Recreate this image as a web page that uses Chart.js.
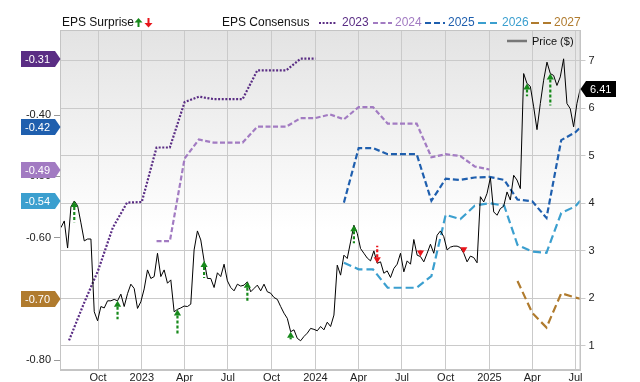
<!DOCTYPE html>
<html><head><meta charset="utf-8">
<script src="https://cdn.jsdelivr.net/npm/chart.js@4/dist/chart.umd.min.js"></script>
<style>html,body{margin:0;padding:0;background:#fff}</style>
</head><body>
<canvas id="c" width="640" height="382"></canvas>
<script>
// ---------- DATA ----------
const priceStart = '2022-07-15'; // weekly closes from this date
const priceWeekly = [
3.49,3.63,3.06,3.93,4.05,3.95,3.59,3.21,3.25,3.25,
1.72,1.53,1.83,1.80,1.95,1.95,1.98,1.95,2.09,1.83,
2.10,2.30,2.21,1.79,1.93,2.20,2.60,2.42,2.46,2.95,
2.46,2.60,2.32,2.39,1.72,1.77,1.80,1.84,1.83,1.88,
3.02,3.42,3.23,2.79,2.42,2.42,2.23,2.54,2.46,2.72,
2.37,2.23,2.16,2.30,2.26,2.28,2.35,2.14,2.21,2.28,
2.16,2.30,2.14,2.11,2.02,1.98,1.83,1.69,1.58,1.30,
1.34,1.16,1.11,1.20,1.27,1.37,1.35,1.32,1.41,1.34,
1.50,1.41,1.65,2.70,2.49,2.91,2.84,3.19,3.54,3.37,
3.05,2.95,2.85,2.79,3.00,2.74,2.77,2.53,2.58,2.44,
2.63,2.72,2.95,2.56,2.79,2.72,3.24,2.91,2.88,2.77,
2.95,3.14,2.95,3.33,3.42,3.30,3.02,3.08,3.10,3.10,
3.07,2.95,2.77,2.89,2.86,2.75,4.14,4.03,4.21,4.54,
3.82,3.75,3.89,3.94,4.24,4.07,4.59,4.49,4.31,6.73,
6.52,6.46,6.03,5.55,6.10,6.59,6.97,6.73,6.69,6.48,
6.66,7.04,6.10,5.99,5.61,6.10,6.41
];

const consensusDates = [
'2022-08-01','2022-09-01','2022-10-01','2022-11-01','2022-12-01',
'2023-01-01','2023-02-01','2023-03-01','2023-04-01','2023-05-01','2023-06-01',
'2023-07-01','2023-08-01','2023-09-01','2023-10-01','2023-11-01','2023-12-01',
'2024-01-01','2024-02-01','2024-03-01','2024-04-01','2024-05-01','2024-06-01',
'2024-07-01','2024-08-01','2024-09-01','2024-10-01','2024-11-01','2024-12-01',
'2025-01-01','2025-02-01','2025-03-01','2025-04-01','2025-05-01','2025-06-01',
'2025-07-01','2025-07-11'
];
const N = null;
const eps2023 = [-0.768,-0.708,-0.654,-0.584,-0.543,-0.542,-0.453,-0.453,-0.379,-0.370,-0.374,-0.374,-0.374,-0.327,-0.327,-0.327,-0.308,-0.308,
  N,N,N,N,N,N,N,N,N,N,N,N,N,N,N,N,N,N,N];
const eps2024 = [N,N,N,N,N,N,-0.606,-0.606,-0.471,-0.440,-0.445,-0.445,-0.445,-0.419,-0.419,-0.419,-0.405,-0.405,-0.399,-0.407,-0.387,-0.387,-0.414,-0.414,-0.414,-0.469,-0.464,-0.467,-0.484,-0.489,
  N,N,N,N,N,N,N];
const eps2025 = [N,N,N,N,N,N,N,N,N,N,N,N,N,N,N,N,N,N,N,
  -0.543,-0.454,-0.454,-0.464,-0.464,-0.464,-0.540,-0.504,-0.506,-0.502,-0.501,-0.506,-0.538,-0.541,-0.568,-0.441,-0.428,-0.420];
const eps2026 = [N,N,N,N,N,N,N,N,N,N,N,N,N,N,N,N,N,N,N,
  -0.641,-0.652,-0.652,-0.682,-0.682,-0.682,-0.663,-0.563,-0.570,-0.548,-0.544,-0.548,-0.612,-0.623,-0.625,-0.560,-0.549,-0.540];
const eps2027 = [N,N,N,N,N,N,N,N,N,N,N,N,N,N,N,N,N,N,N,N,N,N,N,N,N,N,N,N,N,N,N,
  -0.671,-0.723,-0.747,-0.691,-0.698,-0.700];

const surpriseDates = ['2022-08-12','2022-11-11','2023-03-17','2023-05-12','2023-08-11','2023-11-10',
  '2024-03-22','2024-05-10','2024-08-09','2024-11-08','2025-03-21','2025-05-09'];
const surpriseSize = [0.45,0.39,0.55,0.36,0.40,0.16,0.38,-0.37,-0.14,-0.13,0.27,0.67];

const xTickDates = ['2022-10-01','2023-01-01','2023-04-01','2023-07-01','2023-10-01','2024-01-01',
  '2024-04-01','2024-07-01','2024-10-01','2025-01-01','2025-04-01','2025-07-01'];
const xTickLabels = ['Oct','2023','Apr','Jul','Oct','2024','Apr','Jul','Oct','2025','Apr','Jul'];
const epsTicks = [-0.8,-0.7,-0.6,-0.5,-0.4];
const priceTicks = [1,2,3,4,5,6,7];

const seriesNames = ['2023','2024','2025','2026','2027'];
const seriesColors = ['#5a2d84','#a27bc2','#1f5fae','#3b9fcf','#b07b2e'];
const seriesDash = [[2,1.6],[5,2.5],[6,3],[8,4],[8,4]];
const seriesData = [eps2023,eps2024,eps2025,eps2026,eps2027];

// ---------- BUILD ----------
const DAY = 86400000;
const ts = s => Date.parse(s + 'T00:00:00Z');
const priceT0 = ts(priceStart);
const priceData = priceWeekly.map((v,i)=>({x: priceT0 + i*7*DAY, y: v}));
const FONT = '"Liberation Sans", Arial, Helvetica, sans-serif';

const datasets = [{
  label:'Price ($)', data: priceData, yAxisID:'yPrice', borderColor:'#000', borderWidth:1,
  pointRadius:0, tension:0, order:0
}];
seriesData.forEach((arr,si)=>{
  const pts = [];
  arr.forEach((v,i)=>{ if(v!==null) pts.push({x: ts(consensusDates[i]), y: v}); });
  datasets.push({label:seriesNames[si], data:pts, yAxisID:'yEps', borderColor:seriesColors[si],
    borderWidth:2.2, borderDash:seriesDash[si], pointRadius:0, tension:0, order:si+1, borderCapStyle:'butt'});
});

function priceAt(d){
  const i = Math.round((ts(d)-priceT0)/(7*DAY));
  return priceWeekly[Math.max(0,Math.min(priceWeekly.length-1,i))];
}

function arrow(ctx, x, yHead, yTail, color){
  const up = yHead < yTail;
  const dir = up ? 1 : -1;
  const hl = 6, hw = 3.6;
  ctx.save();
  ctx.strokeStyle = color; ctx.fillStyle = color; ctx.lineWidth = 2.2;
  ctx.setLineDash([3,2]);
  ctx.beginPath(); ctx.moveTo(x, yHead + dir*hl); ctx.lineTo(x, yTail); ctx.stroke();
  ctx.setLineDash([]);
  ctx.beginPath(); ctx.moveTo(x, yHead); ctx.lineTo(x-hw, yHead+dir*hl); ctx.lineTo(x+hw, yHead+dir*hl); ctx.closePath(); ctx.fill();
  ctx.restore();
}

const decor = {
  id:'decor',
  beforeDraw(chart){
    const {ctx, chartArea:a} = chart;
    ctx.save();
    const g = ctx.createLinearGradient(0, a.top, 0, a.top + 200);
    g.addColorStop(0, '#e3e3e3'); g.addColorStop(1, '#ffffff');
    ctx.fillStyle = g; ctx.fillRect(a.left, a.top, a.right-a.left, a.bottom-a.top);
    ctx.restore();
  },
  afterDatasetsDraw(chart){
    const {ctx, scales} = chart;
    const xs = scales.x, yp = scales.yPrice;
    surpriseDates.forEach((d,i)=>{
      const head = priceAt(d);
      const x = xs.getPixelForValue(ts(d));
      const yH = yp.getPixelForValue(head);
      const yT = yp.getPixelForValue(head - surpriseSize[i]);
      arrow(ctx, x, yH, yT, surpriseSize[i] >= 0 ? '#17891b' : '#e8151b');
    });
  },
  afterDraw(chart){
    const {ctx, chartArea:a, scales} = chart;
    ctx.save();
    // border
    ctx.strokeStyle = '#c4c4c4'; ctx.lineWidth = 1;
    ctx.strokeRect(a.left+0.5, a.top+0.5, a.right-a.left-1, a.bottom-a.top-1);
    // left tags
    ctx.font = '11px ' + FONT; ctx.textBaseline = 'middle'; ctx.textAlign = 'left';
    seriesData.forEach((arr,si)=>{
      let last = null; for (const v of arr) if (v!==null) last = v;
      const y = Math.round(scales.yEps.getPixelForValue(last));
      ctx.fillStyle = seriesColors[si];
      ctx.beginPath(); ctx.moveTo(21,y-8); ctx.lineTo(55,y-8); ctx.lineTo(60.5,y); ctx.lineTo(55,y+8); ctx.lineTo(21,y+8); ctx.closePath(); ctx.fill();
      ctx.fillStyle = '#fff'; ctx.fillText(last.toFixed(2), 25, y+0.5);
    });
    // right price tag
    const lastP = priceWeekly[priceWeekly.length-1];
    const yP = Math.round(scales.yPrice.getPixelForValue(lastP));
    ctx.fillStyle = '#000';
    ctx.beginPath(); ctx.moveTo(580.5,yP); ctx.lineTo(586,yP-8); ctx.lineTo(616,yP-8); ctx.lineTo(616,yP+8); ctx.lineTo(586,yP+8); ctx.closePath(); ctx.fill();
    ctx.fillStyle = '#fff'; ctx.fillText(lastP.toFixed(2), 590, yP+0.5);
    // legend
    ctx.font = '12px ' + FONT; ctx.fillStyle = '#111';
    ctx.fillText('EPS Surprise', 62, 23);
    ctx.fillText('EPS Consensus', 222, 23);
    // legend arrows
    ctx.fillStyle = '#17891b';
    ctx.beginPath(); ctx.moveTo(138.5,18); ctx.lineTo(134.5,22.5); ctx.lineTo(142.5,22.5); ctx.closePath(); ctx.fill();
    ctx.fillRect(137.5,22,2,5);
    ctx.fillStyle = '#e8151b';
    ctx.beginPath(); ctx.moveTo(148.5,27.5); ctx.lineTo(144.5,23); ctx.lineTo(152.5,23); ctx.closePath(); ctx.fill();
    ctx.fillRect(147.5,18,2,5.5);
    const lx = [[319,337,342],[373,392,395],[425,445,448],[478,497,502],[531,551,554]];
    lx.forEach((p,si)=>{
      ctx.strokeStyle = seriesColors[si]; ctx.lineWidth = 2.2; ctx.setLineDash(seriesDash[si]);
      ctx.beginPath(); ctx.moveTo(p[0],23); ctx.lineTo(p[1],23); ctx.stroke();
      ctx.setLineDash([]);
      ctx.fillStyle = seriesColors[si]; ctx.fillText(seriesNames[si], p[2], 23);
    });
    // price legend
    ctx.strokeStyle = '#777'; ctx.lineWidth = 2.5;
    ctx.beginPath(); ctx.moveTo(507,41); ctx.lineTo(527,41); ctx.stroke();
    ctx.font = '11px ' + FONT; ctx.fillStyle = '#111';
    ctx.fillText('Price ($)', 532, 41.5);
    ctx.restore();
  }
};

new Chart(document.getElementById('c'), {
  type:'line',
  data:{datasets},
  options:{
    responsive:false, animation:false, devicePixelRatio:1,
    layout:{padding:{top:30,left:0,right:0,bottom:0}},
    plugins:{legend:{display:false}, tooltip:{enabled:false}},
    scales:{
      x:{type:'linear', min: Date.UTC(2022,6,13), max: Date.UTC(2025,6,11,12),
        afterBuildTicks(s){ s.ticks = xTickDates.map(d=>({value: ts(d)})); },
        afterFit(s){ s.height = 12; },
        grid:{color:'#cacaca', drawTicks:false, tickLength:0},
        border:{color:'#c4c4c4'},
        ticks:{autoSkip:false, maxRotation:0, padding:1, color:'#222', font:{family:FONT, size:11},
          callback:(v,i)=>xTickLabels[i]}
      },
      yEps:{type:'linear', position:'left', min:-0.8163, max:-0.2612,
        afterBuildTicks(s){ s.ticks = epsTicks.map(v=>({value:v})); },
        afterFit(s){ s.width = 60; },
        grid:{drawOnChartArea:false, tickLength:6, color:'#999'},
        border:{color:'#c4c4c4'},
        ticks:{padding:3, color:'#222', font:{family:FONT, size:11}, callback:v=>Number(v).toFixed(2)}
      },
      yPrice:{type:'linear', position:'right', min:0.495, max:7.646,
        afterBuildTicks(s){ s.ticks = priceTicks.map(v=>({value:v})); },
        afterFit(s){ s.width = 59.5; },
        grid:{color:'#cacaca', tickLength:5},
        border:{color:'#c4c4c4'},
        ticks:{padding:3, color:'#222', font:{family:FONT, size:11}, callback:v=>String(v)}
      }
    }
  },
  plugins:[decor]
});
</script>
</body></html>
